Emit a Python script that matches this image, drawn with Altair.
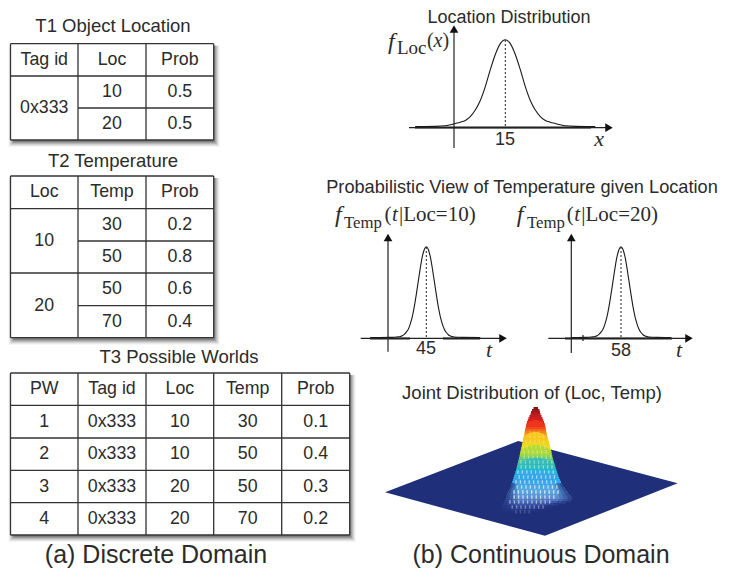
import altair as alt
import pandas as pd

# ---------- values ----------
T1_TITLE = "T1 Object Location"
T1_HEAD = ["Tag id", "Loc", "Prob"]
T1_TAG = ["0x333"]
T1_LOC = ["10", "20"]
T1_PROB = ["0.5", "0.5"]

T2_TITLE = "T2 Temperature"
T2_HEAD = ["Loc", "Temp", "Prob"]
T2_LOC = ["10", "20"]
T2_TEMP = ["30", "50", "50", "70"]
T2_PROB = ["0.2", "0.8", "0.6", "0.4"]

T3_TITLE = "T3 Possible Worlds"
T3_HEAD = ["PW", "Tag id", "Loc", "Temp", "Prob"]
T3_PW = ["1", "2", "3", "4"]
T3_TAG = ["0x333", "0x333", "0x333", "0x333"]
T3_LOC = ["10", "10", "20", "20"]
T3_TEMP = ["30", "50", "50", "70"]
T3_PROB = ["0.1", "0.4", "0.3", "0.2"]

LOC_X = [-3, 1, 3, 4, 5, 6, 7, 8, 9, 10, 11, 12, 13, 14, 15, 16, 17, 18, 19, 20, 21, 22, 23, 24, 25, 26, 27, 29, 33]
LOC_F = [0, 0.002, 0.008, 0.02, 0.035, 0.05, 0.07, 0.115, 0.19, 0.30, 0.46, 0.655, 0.83, 0.955, 1,
         0.955, 0.83, 0.655, 0.46, 0.30, 0.19, 0.115, 0.07, 0.05, 0.035, 0.02, 0.008, 0.002, 0]

T10_T = [17, 27, 29, 31, 32, 33, 34, 35, 36, 37, 38, 39, 40, 41, 42, 43, 44, 45,
         46, 47, 48, 49, 50, 51, 52, 53, 54, 55, 56, 57, 58, 59, 61, 63, 72]
T10_F = [0, 0.001, 0.003, 0.008, 0.012, 0.02, 0.035, 0.06, 0.09, 0.15, 0.23, 0.34, 0.475, 0.62, 0.765, 0.89, 0.97, 1,
         0.97, 0.89, 0.765, 0.62, 0.475, 0.34, 0.23, 0.15, 0.09, 0.055, 0.03, 0.017, 0.01, 0.006, 0.003, 0.001, 0]

T20_T = [33, 40, 42, 44, 45, 46, 47, 48, 49, 50, 51, 52, 53, 54, 55, 56, 57, 58,
         59, 60, 61, 62, 63, 64, 65, 66, 67, 68, 69, 70, 71, 72, 74, 76, 83]
T20_F = T10_F

PLANE_X = [385, 518.3, 545, 677.7]
PLANE_TOP = [492.3, 441, 448.1, 483.3]
PLANE_BOT = [492.3, 528.5, 535.7, 483.3]

SURF_Y = [407, 409, 411, 413, 415, 417, 419, 421, 423, 425, 427, 429, 431, 433, 435, 437, 439, 441, 443, 445,
          447, 449, 451, 453, 455, 457, 459, 461, 463, 465, 467, 469, 471, 473, 475, 477, 479, 481, 483, 485,
          487, 489, 491, 493, 495, 497, 499, 501, 503, 505, 507, 509, 511, 513]
SURF_L = [533.5, 532, 531, 530.5, 529.5, 528.5, 527.8, 527, 526.5, 526, 525.5, 525, 524.6, 524.3, 523.9, 523.4, 523, 522.5, 522, 521.7,
          521.2, 520.8, 520.4, 519.9, 519.5, 519, 518.5, 518, 517.5, 517, 516.5, 516, 515.3, 514.8, 514, 513.5, 513, 512.2, 511.5, 511,
          510, 509, 508.3, 507.5, 506.8, 506, 505, 504, 503, 502, 502, 503, 506, 512]
SURF_R = [538, 539.5, 540, 540.5, 541.5, 542.5, 543.2, 544, 544.8, 545.2, 545.7, 546, 546.4, 546.8, 547.2, 547.8, 548.4, 549, 549.5, 550,
          550.5, 551, 551.3, 551.8, 552.3, 552.8, 553.3, 554, 554.6, 555.2, 555.8, 556.4, 557, 557.7, 558.4, 559.2, 560, 561, 562, 563,
          564.5, 566, 567.5, 569, 570.5, 572, 571, 566, 559, 552, 547, 541, 535, 528]
SURF_STOPS = [407, 412, 420, 426, 432, 438, 447, 453, 459, 465, 471, 480, 490, 497, 505, 513]
SURF_COLORS = ["#7a1515", "#b01c1c", "#e02020", "#f03a1e", "#f58a1e", "#f9c81e", "#e8e020", "#a8d83c",
               "#5ac88a", "#40bdb0", "#30b4e0", "#35a6e8", "#5aa8e0", "#5d8ad0", "#30479a", "#1f2f7a"]

# contour arches on the front of the peak: level, left, right, rise
ARCH_Y = [425, 438, 452, 466, 480]
ARCH_L = [526, 523, 520, 517, 512.5]
ARCH_R = [545, 548, 552, 555, 560.5]
ARCH_RISE = [5, 6, 7, 8, 9]

# white mesh flecks: row, first x, last x, strength
SPECK_Y = [432, 437, 442, 447, 452, 457, 462, 467, 472, 477, 482, 487, 492, 497, 502, 507, 512]
SPECK_L = [530, 528, 526, 525, 524, 522, 521, 519, 518, 517, 516, 515, 514, 512, 510, 510, 516]
SPECK_R = [542, 544, 546, 547, 549, 551, 552, 553, 555, 556, 557, 557, 558, 558, 552, 545, 530]
SPECK_A = [0.2, 0.22, 0.25, 0.28, 0.32, 0.36, 0.4, 0.45, 0.5, 0.55, 0.6, 0.68, 0.75, 0.72, 0.55, 0.38, 0.2]

# navy fade over the flanks at the foot of the peak: strip width and strength per strip
FADE_OPACITY = [0.7, 0.45, 0.22]

# ---------- layout ----------
INK = "#2b2b2b"
SANS = "Liberation Sans"
SERIF = "Liberation Serif"
COLS3 = [10.5, 78, 146, 213.7]
COLS5 = [10.5, 78, 146, 213.7, 281.7, 349.7]
T1_RULES = [43.7, 76, 108, 140]
T2_RULES = [176, 208.7, 241, 273, 305.7, 337.7]
T3_RULES = [373, 405.3, 438, 470.3, 502.7, 535]

PX = alt.Scale(domain=[8, 723], range=[0, 715], nice=False, zero=False)
PY = alt.Scale(domain=[8, 569], range=[0, 561], nice=False, zero=False)


def X(f="x"):
    return alt.X(f, type="quantitative", scale=PX, axis=None)


def Y(f="y"):
    return alt.Y(f, type="quantitative", scale=PY, axis=None)


def X2(f="x2"):
    return alt.X2(f)


def Y2(f="y2"):
    return alt.Y2(f)


def texts(rows, size=18.5, font=SANS, align="center", baseline="middle", style="normal", color=INK):
    df = pd.DataFrame(rows, columns=["t", "x", "y"])
    return alt.Chart(df).mark_text(font=font, fontSize=size, align=align, baseline=baseline,
                                   fontStyle=style, color=color).encode(x=X(), y=Y(), text="t:N")


def segs(rows, color="#333333", width=1.3, dash=None):
    df = pd.DataFrame(rows, columns=["x", "x2", "y", "y2"])
    kw = dict(color=color, strokeWidth=width)
    if dash:
        kw["strokeDash"] = dash
    return alt.Chart(df).mark_rule(**kw).encode(x=X(), x2=X2(), y=Y(), y2=Y2())


def box(x0, x1, y0, y1, color="white", opacity=1.0):
    df = pd.DataFrame({"x": [x0], "x2": [x1], "y": [y0], "y2": [y1]})
    return alt.Chart(df).mark_rect(color=color, opacity=opacity).encode(x=X(), x2=X2(), y=Y(), y2=Y2())


def shadow(x0, x1, y0, y1):
    out = []
    for dx, dy, op in [(6, 7, 0.05), (5, 6, 0.07), (4, 5, 0.10), (3, 4, 0.14), (2, 3, 0.18), (1, 2, 0.22)]:
        out.append(box(x0 - 2 + (6 - dx), x1 + dx, y0 + 2, y1 + dy, "#222222", op))
    return out


def mid(a, b):
    return (a + b) / 2


layers = []

# ---------- tables ----------
for cols, ys in [(COLS3, T1_RULES), (COLS3, T2_RULES), (COLS5, T3_RULES)]:
    layers += shadow(cols[0], cols[-1], ys[0], ys[-1])
    layers.append(box(cols[0], cols[-1], ys[0], ys[-1]))

rules = []
# T1
for c in COLS3:
    rules.append((c, c, T1_RULES[0], T1_RULES[-1]))
for y in (T1_RULES[0], T1_RULES[1], T1_RULES[3]):
    rules.append((COLS3[0], COLS3[-1], y, y))
rules.append((COLS3[1], COLS3[-1], T1_RULES[2], T1_RULES[2]))
# T2
for c in COLS3:
    rules.append((c, c, T2_RULES[0], T2_RULES[-1]))
for y in (T2_RULES[0], T2_RULES[1], T2_RULES[3], T2_RULES[5]):
    rules.append((COLS3[0], COLS3[-1], y, y))
for y in (T2_RULES[2], T2_RULES[4]):
    rules.append((COLS3[1], COLS3[-1], y, y))
# T3
for c in COLS5:
    rules.append((c, c, T3_RULES[0], T3_RULES[-1]))
for y in T3_RULES:
    rules.append((COLS5[0], COLS5[-1], y, y))
layers.append(segs(rules))

cells = []
for j, h in enumerate(T1_HEAD):
    cells.append((h, mid(COLS3[j], COLS3[j + 1]), mid(T1_RULES[0], T1_RULES[1])))
cells.append((T1_TAG[0], mid(COLS3[0], COLS3[1]), T1_RULES[2]))
for i in range(2):
    cells.append((T1_LOC[i], mid(COLS3[1], COLS3[2]), mid(T1_RULES[i + 1], T1_RULES[i + 2])))
    cells.append((T1_PROB[i], mid(COLS3[2], COLS3[3]), mid(T1_RULES[i + 1], T1_RULES[i + 2])))

for j, h in enumerate(T2_HEAD):
    cells.append((h, mid(COLS3[j], COLS3[j + 1]), mid(T2_RULES[0], T2_RULES[1])))
cells.append((T2_LOC[0], mid(COLS3[0], COLS3[1]), T2_RULES[2]))
cells.append((T2_LOC[1], mid(COLS3[0], COLS3[1]), T2_RULES[4]))
for i in range(4):
    cells.append((T2_TEMP[i], mid(COLS3[1], COLS3[2]), mid(T2_RULES[i + 1], T2_RULES[i + 2])))
    cells.append((T2_PROB[i], mid(COLS3[2], COLS3[3]), mid(T2_RULES[i + 1], T2_RULES[i + 2])))

for j, h in enumerate(T3_HEAD):
    cells.append((h, mid(COLS5[j], COLS5[j + 1]), mid(T3_RULES[0], T3_RULES[1])))
for i in range(4):
    ym = mid(T3_RULES[i + 1], T3_RULES[i + 2])
    for j, col in enumerate([T3_PW, T3_TAG, T3_LOC, T3_TEMP, T3_PROB]):
        cells.append((col[i], mid(COLS5[j], COLS5[j + 1]), ym))
layers.append(texts(cells, size=17.8))

layers.append(texts([(T1_TITLE, 113, 26), (T2_TITLE, 113, 160.5), (T3_TITLE, 179, 356.5),
                     ("Joint Distribution of (Loc, Temp)", 532, 393)], size=18.5))
layers.append(texts([("Location Distribution", 509, 18)], size=18))
layers.append(texts([("Probabilistic View of Temperature given Location", 522, 188)], size=18.2))
layers.append(texts([("(a) Discrete Domain", 156, 555), ("(b) Continuous Domain", 541, 555)], size=25))


# ---------- density curves ----------
def curve(xs, fs, xdom, xrange_px, y_peak, y_base):
    df = pd.DataFrame({"v": xs, "f": fs})
    return alt.Chart(df).mark_line(color="#1a1a1a", strokeWidth=1.1, interpolate="monotone").encode(
        x=alt.X("v:Q", axis=None, scale=alt.Scale(domain=xdom, range=[xrange_px[0] - 8, xrange_px[1] - 8], nice=False, zero=False)),
        y=alt.Y("f:Q", axis=None, scale=alt.Scale(domain=[0, 1], range=[y_base - 8, y_peak - 8], nice=False, zero=False)),
    )


def head(x, y, shape, size=75):
    df = pd.DataFrame({"x": [x], "y": [y]})
    return alt.Chart(df).mark_point(shape=shape, filled=True, color="#111111", size=size, opacity=1).encode(x=X(), y=Y())


# thick grey baselines under the curves
layers.append(segs([(415, 591, 127.5, 127.5), (370, 410, 338.5, 338.5), (443, 480, 338.5, 338.5),
                    (565, 672, 338.5, 338.5)], color="#666666", width=2.6))
# axes
layers.append(segs([(409, 609, 127.7, 127.7), (454, 454, 148, 30),
                    (360.7, 503, 338.3, 338.3), (388, 388, 351.7, 338.3),
                    (548.3, 689, 338.3, 338.3), (571.3, 571.3, 353, 238),
                    (583, 583, 335, 341)], color="#222222", width=1.2))
layers.append(segs([(388, 388, 338.3, 238)], color="#777777", width=2))
# dotted drops
layers.append(segs([(505.3, 505.3, 40, 127.5), (426.3, 426.3, 247, 338), (621, 621, 247, 338)],
                   color="#222222", width=1, dash=[2, 2]))
layers += [
    head(454, 29, "triangle-up"), head(609, 127.7, "triangle-right"),
    head(388, 237.5, "triangle-up"), head(503, 338.3, "triangle-right"),
    head(571.3, 237.5, "triangle-up"), head(689, 338.3, "triangle-right"),
]
layers.append(curve(LOC_X, LOC_F, [5, 25], [455.3, 555.3], 39.7, 126.5))
layers.append(curve(T10_T, T10_F, [35, 55], [406.3, 446.3], 246.7, 337.5))
layers.append(curve(T20_T, T20_F, [48, 68], [601, 641], 246.7, 337.5))

layers.append(texts([("15", 505, 140), ("45", 426, 349), ("58", 621, 351)], size=18))
layers.append(texts([("x", 599, 139), ("t", 489, 350), ("t", 679, 350)], size=22, font=SERIF, style="italic"))

# math labels
layers.append(texts([("f", 388, 49), ("f", 335, 221.7), ("f", 516.7, 221.7)], size=24, font=SERIF, style="italic",
                    align="left", baseline="alphabetic"))
layers.append(texts([("Loc", 397, 54)], size=19, font=SERIF, align="left", baseline="alphabetic"))
layers.append(texts([("Temp", 344, 228.3), ("Temp", 527, 228.3)], size=16.8, font=SERIF, align="left", baseline="alphabetic"))
layers.append(texts([("(", 427, 47), (")", 442.5, 47)], size=20, font=SERIF, align="left", baseline="alphabetic"))
layers.append(texts([("x", 433.5, 47)], size=20, font=SERIF, style="italic", align="left", baseline="alphabetic"))
layers.append(texts([("(", 384.5, 220.7), ("|Loc=10)", 399, 220.7), ("(", 566.8, 220.7), ("|Loc=20)", 581.3, 220.7)],
                    size=21, font=SERIF, align="left", baseline="alphabetic"))
layers.append(texts([("t", 392, 220.7), ("t", 574.3, 220.7)], size=21, font=SERIF, style="italic", align="left",
                    baseline="alphabetic"))

# ---------- joint surface ----------
HEAT = alt.Scale(domain=SURF_STOPS, range=SURF_COLORS)
plane = pd.DataFrame({"x": PLANE_X, "y": PLANE_TOP, "y2": PLANE_BOT})
layers.append(alt.Chart(plane).mark_area(color="#1f2f7a").encode(x=X(), y=Y(), y2=Y2()))

surf = pd.DataFrame({"x": SURF_L, "x2": SURF_R, "y": SURF_Y})
surf["y2"] = surf["y"] + 2.2
surf["h"] = surf["y"]
layers.append(alt.Chart(surf).mark_rect().encode(
    x=X(), x2=X2(), y=Y(), y2=Y2(),
    color=alt.Color("h:Q", legend=None, scale=HEAT),
))

for lvl, l, r, rise in zip(ARCH_Y, ARCH_L, ARCH_R, ARCH_RISE):
    w = r - l
    arch = pd.DataFrame({
        "x": [l, l + w * 0.2, l + w * 0.5, r - w * 0.2, r],
        "y": [lvl, lvl - rise * 0.7, lvl - rise, lvl - rise * 0.7, lvl],
        "y2": [lvl + 0.5] * 5,
        "h": [lvl] * 5,
    })
    layers.append(alt.Chart(arch).mark_area(interpolate="monotone").encode(
        x=X(), y=Y(), y2=Y2(), color=alt.Color("h:Q", legend=None, scale=HEAT)))

fade = []
for yy, l, r in zip(SURF_Y, SURF_L, SURF_R):
    if yy >= 483:
        grow = (yy - 483) / 10 + 2
        for k, op in enumerate(FADE_OPACITY):
            fade.append((l + k * grow, l + (k + 1) * grow, yy, yy + 2.2, op))
            fade.append((r - (k + 1) * grow * 1.2, r - k * grow * 1.2, yy, yy + 2.2, op))
fd = pd.DataFrame(fade, columns=["x", "x2", "y", "y2", "a"])
layers.append(alt.Chart(fd).mark_rect(color="#1f2f7a").encode(
    x=X(), x2=X2(), y=Y(), y2=Y2(), opacity=alt.Opacity("a:Q", scale=None)))

specks = []
for row, (yy, l, r, a) in enumerate(zip(SPECK_Y, SPECK_L, SPECK_R, SPECK_A)):
    xx = l + (row % 2) * 2.2
    while xx <= r:
        specks.append((xx, yy - 1.7, yy + 1.7, a))
        xx += 4.4
sp = pd.DataFrame(specks, columns=["x", "y", "y2", "a"])
layers.append(alt.Chart(sp).mark_rule(color="white", strokeWidth=1.3).encode(
    x=X(), y=Y(), y2=Y2(), opacity=alt.Opacity("a:Q", scale=None)))

chart = alt.layer(*layers).resolve_scale(x="independent", y="independent").properties(
    width=715, height=561, padding=0, background="white",
    autosize=alt.AutoSizeParams(type="none"),
).configure_view(stroke=None)

chart.save("out.html", embed_options={"renderer": "svg", "actions": False})
